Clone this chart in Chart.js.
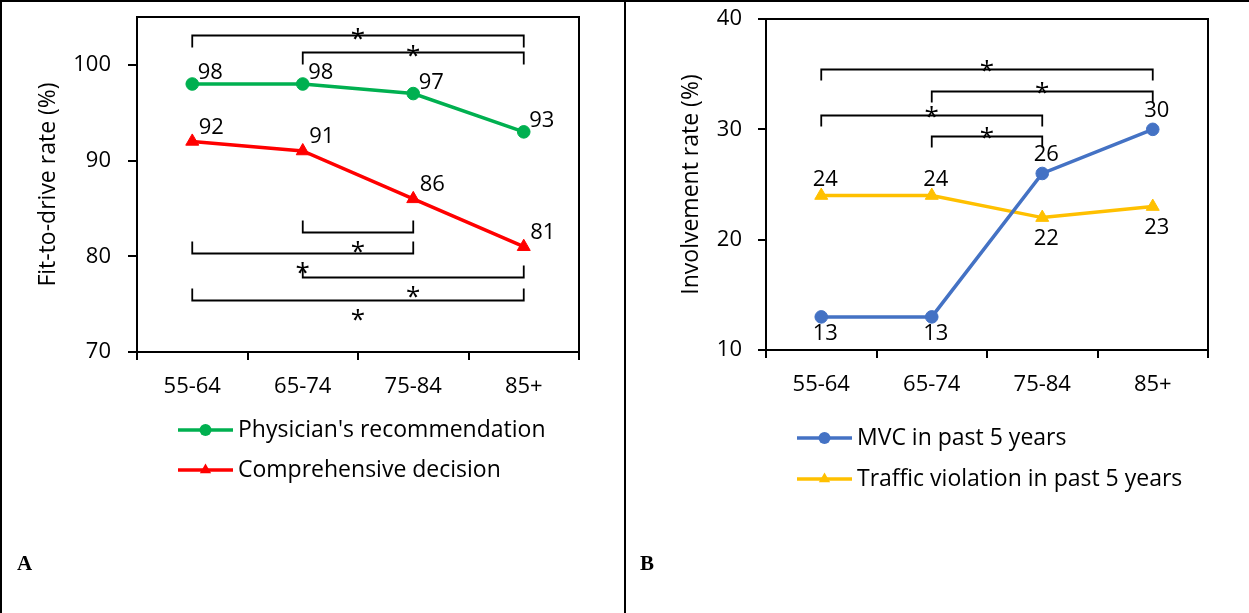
<!DOCTYPE html>
<html>
<head>
<meta charset="utf-8">
<script src="https://cdn.jsdelivr.net/npm/chart.js@4.4.0/dist/chart.umd.min.js"></script>
<style>
  html, body { margin: 0; padding: 0; background: #fff; }
  #page { position: relative; width: 1249px; height: 613px; overflow: hidden; }
  .panel { position: absolute; top: 0; height: 613px; }
  #panelA { left: 0; width: 624px; }
  #panelB { left: 627px; width: 622px; }
  .rule { position: absolute; background: #000; }
  .tag { position: absolute; font-family: "Liberation Serif", serif; font-weight: bold; font-size: 21px; line-height: 21px; }
</style>
</head>
<body>
<div id="page">
  <div class="panel" id="panelA"><canvas id="fitChart"></canvas></div>
  <div class="panel" id="panelB"><canvas id="involvementChart"></canvas></div>
  <div class="rule" style="left:0;top:0;width:1249px;height:2px"></div>
  <div class="rule" style="left:0;top:0;width:2px;height:613px"></div>
  <div class="rule" style="left:624px;top:0;width:2px;height:613px"></div>
  <div class="tag" style="left:17px;top:553px">A</div>
  <div class="tag" style="left:640px;top:553px">B</div>
</div>
<script>
const ageGroups = ['55-64', '65-74', '75-84', '85+'];

const physicianRecommendation = [98, 98, 97, 93];
const comprehensiveDecision = [92, 91, 86, 81];
const mvcPast5 = [13, 13, 26, 30];
const violationPast5 = [24, 24, 22, 23];

const fitTicks = [70, 80, 90, 100];
const involvementTicks = [10, 20, 30, 40];

// significance brackets: [from group, to group, level (%), arms]
const fitBrackets = [
    [0, 3, 103.1, 'down'],
    [1, 3, 101.3, 'down'],
    [1, 2, 82.5, 'up'],
    [0, 2, 80.3, 'up'],
    [1, 3, 77.8, 'up'],
    [0, 3, 75.4, 'up']
];
const involvementBrackets = [
    [0, 3, 35.45, 'down'],
    [1, 3, 33.5, 'down'],
    [0, 2, 31.3, 'down'],
    [1, 2, 29.4, 'down']
];

const FONT = '"Open Sans", Lato, sans-serif';
const FS = 22;
const LEGEND_FS = 23;


function drawMarker(ctx, style, x, y, r, color) {
    ctx.fillStyle = color;
    ctx.beginPath();
    if (style === 'triangle') {
        ctx.moveTo(x, y - r);
        ctx.lineTo(x + r * 0.866, y + r / 2);
        ctx.lineTo(x - r * 0.866, y + r / 2);
        ctx.closePath();
    } else {
        ctx.arc(x, y, r, 0, Math.PI * 2);
    }
    ctx.fill();
}

const frame = {
    id: 'frame',
    afterDraw(chart) {
        const { ctx, chartArea: a } = chart;
        ctx.save();
        ctx.strokeStyle = '#000';
        ctx.lineWidth = 2;
        ctx.strokeRect(a.left, a.top, a.right - a.left, a.bottom - a.top);
        ctx.restore();
    }
};

const brackets = {
    id: 'brackets',
    afterDatasetsDraw(chart, args, opts) {
        const { ctx, scales: { x, y } } = chart;
        ctx.save();
        ctx.strokeStyle = '#000';
        ctx.fillStyle = '#000';
        ctx.lineWidth = 1.8;
        ctx.font = `${opts.starSize}px ${FONT}`;
        ctx.textAlign = 'center';
        ctx.textBaseline = 'alphabetic';
        opts.items.forEach(([from, to, level, arms]) => {
            const x1 = x.getPixelForValue(from);
            const x2 = x.getPixelForValue(to);
            const yy = Math.round(y.getPixelForValue(level)) + 0.5;
            const arm = arms === 'down' ? opts.arm : -opts.arm;
            ctx.beginPath();
            ctx.moveTo(x1, yy + arm);
            ctx.lineTo(x1, yy);
            ctx.lineTo(x2, yy);
            ctx.lineTo(x2, yy + arm);
            ctx.stroke();
            const starY = arms === 'down' ? yy - opts.starAbove : yy + opts.starBelow;
            ctx.fillText('*', (x1 + x2) / 2, starY + opts.starSize * 0.6);
        });
        ctx.restore();
    }
};

const valueLabels = {
    id: 'valueLabels',
    afterDatasetsDraw(chart) {
        const { ctx } = chart;
        ctx.save();
        ctx.fillStyle = '#000';
        ctx.font = `${FS}px ${FONT}`;
        ctx.textAlign = 'center';
        ctx.textBaseline = 'middle';
        chart.data.datasets.forEach((ds, i) => {
            chart.getDatasetMeta(i).data.forEach((pt, j) => {
                const dy = ds.labelSide[j] === 'below' ? ds.labelBelow : -ds.labelAbove;
                ctx.fillText(String(ds.data[j]), pt.x + ds.labelDx, pt.y + dy);
            });
        });
        ctx.restore();
    }
};

const sideLegend = {
    id: 'sideLegend',
    afterDraw(chart, args, opts) {
        const { ctx, chartArea } = chart;
        ctx.save();
        chart.data.datasets.forEach((ds, i) => {
            const x0 = chartArea.left + opts.offsetX;
            const yy = opts.top + i * opts.rowGap;
            ctx.strokeStyle = ds.borderColor;
            ctx.lineWidth = ds.borderWidth;
            ctx.beginPath();
            ctx.moveTo(x0, yy);
            ctx.lineTo(x0 + 55, yy);
            ctx.stroke();
            drawMarker(ctx, ds.pointStyle, x0 + 27.5, yy, ds.pointStyle === 'triangle' ? 6.5 : 6, ds.borderColor);
            ctx.fillStyle = '#000';
            ctx.font = `${LEGEND_FS}px ${FONT}`;
            ctx.textAlign = 'left';
            ctx.textBaseline = 'middle';
            ctx.fillText(ds.label, x0 + 60, yy);
        });
        ctx.restore();
    }
};


function series(label, data, color, style, extra) {
    return Object.assign({
        label: label,
        data: data,
        borderColor: color,
        backgroundColor: color,
        pointBackgroundColor: color,
        pointBorderColor: color,
        pointBorderWidth: 1,
        borderWidth: 3.5,
        pointStyle: style,
        pointRadius: style === 'triangle' ? 7.5 : 6.3,
        tension: 0
    }, extra);
}

function noPadding(s) {
    s.paddingTop = 0;
    s.paddingBottom = 0;
    s.paddingLeft = 0;
    s.paddingRight = 0;
}

function axes(o) {
    const tickFont = { family: FONT, size: FS };
    return {
        x: {
            offset: true,
            grid: { offset: true, drawOnChartArea: false, drawTicks: true, tickLength: 8, color: '#000', lineWidth: 2 },
            border: { display: false },
            ticks: { color: '#000', font: tickFont, padding: 14, maxRotation: 0, autoSkip: false },
            afterFit: s => { s.height = o.xHeight; noPadding(s); }
        },
        y: {
            min: o.min,
            max: o.max,
            grid: { drawOnChartArea: false, drawTicks: true, tickLength: o.tickLen, color: '#000', lineWidth: 2 },
            border: { display: false },
            ticks: { color: '#000', font: tickFont, padding: o.tickPad },
            afterBuildTicks: s => { s.ticks = o.ticks.map(v => ({ value: v })); },
            afterFit: s => { s.width = o.yWidth; noPadding(s); },
            title: { display: true, text: o.title, color: '#000', font: { family: FONT, size: 23 }, padding: { top: o.titlePad, bottom: 0 } }
        }
    };
}

new Chart(document.getElementById('fitChart'), {
    type: 'line',
    data: {
        labels: ageGroups,
        datasets: [
            series("Physician's recommendation", physicianRecommendation, '#00B050', 'circle',
                { labelSide: ['above', 'above', 'above', 'above'], labelDx: 18, labelAbove: 11, labelBelow: 0 }),
            series('Comprehensive decision', comprehensiveDecision, '#FF0000', 'triangle',
                { labelSide: ['above', 'above', 'above', 'above'], labelDx: 19, labelAbove: 14, labelBelow: 0 })
        ]
    },
    options: {
        responsive: true,
        maintainAspectRatio: false,
        animation: false,
        events: [],
        layout: { padding: { left: 0, right: 45, top: 17, bottom: 0 } },
        plugins: {
            legend: { display: false },
            tooltip: { enabled: false },
            brackets: { items: fitBrackets, arm: 12, starSize: 26, starAbove: 4, starBelow: 11.5 },
            sideLegend: { offsetX: 41, top: 430, rowGap: 40 }
        },
        scales: axes({ min: 70, max: 105, ticks: fitTicks, xHeight: 261, yWidth: 137, tickLen: 9, tickPad: 17,
            title: 'Fit-to-drive rate (%)', titlePad: 35 })
    },
    plugins: [frame, brackets, valueLabels, sideLegend]
});

new Chart(document.getElementById('involvementChart'), {
    type: 'line',
    data: {
        labels: ageGroups,
        datasets: [
            series('MVC in past 5 years', mvcPast5, '#4472C4', 'circle',
                { labelSide: ['below', 'below', 'above', 'above'], labelDx: 4, labelAbove: 19, labelBelow: 16.5 }),
            series('Traffic violation in past 5 years', violationPast5, '#FFC000', 'triangle',
                { labelSide: ['above', 'above', 'below', 'below'], labelDx: 4, labelAbove: 16, labelBelow: 21 })
        ]
    },
    options: {
        responsive: true,
        maintainAspectRatio: false,
        animation: false,
        events: [],
        layout: { padding: { left: 0, right: 41, top: 19, bottom: 0 } },
        plugins: {
            legend: { display: false },
            tooltip: { enabled: false },
            brackets: { items: involvementBrackets, arm: 11, starSize: 26, starAbove: 6, starBelow: 11.5 },
            sideLegend: { offsetX: 31, top: 438, rowGap: 41 }
        },
        scales: axes({ min: 10, max: 40, ticks: involvementTicks, xHeight: 263, yWidth: 139, tickLen: 8, tickPad: 16,
            title: 'Involvement rate (%)', titlePad: 51 })
    },
    plugins: [frame, brackets, valueLabels, sideLegend]
});
</script>
</body>
</html>
